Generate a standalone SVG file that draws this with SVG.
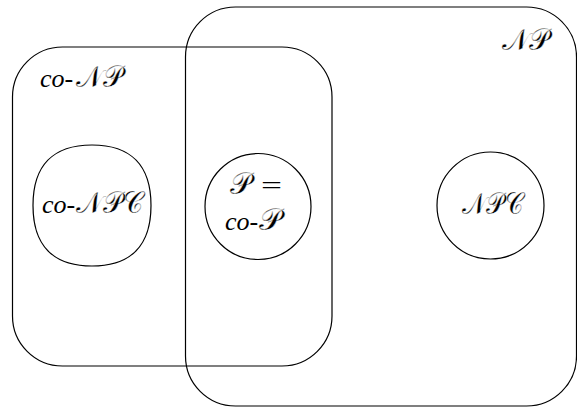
<svg xmlns="http://www.w3.org/2000/svg" width="577" height="408" viewBox="0 0 577 408">
  <style>
    .set { fill: none; stroke: #000; stroke-width: 1.2; }
    .lbl { font-family: "Liberation Serif", serif; font-size: 26px; font-style: italic; fill: #000; }
    .cal { font-family: "DejaVu Sans", "Noto Sans", serif; font-style: normal; font-size: 30px; font-weight: normal; stroke: #fff; stroke-width: 0.3; }
    .eq { font-style: normal; }
  </style>
  <rect width="577" height="408" fill="#fff"/>
  <g id="coNP">
    <rect class="set" x="12.5" y="47" width="319.5" height="319" rx="50"/>
    <text class="lbl" x="40" y="87">co-</text>
    <text class="lbl cal" x="76" y="87" textLength="47" lengthAdjust="spacingAndGlyphs">𝒩𝒫</text>
  </g>
  <g id="NP">
    <rect class="set" x="185.5" y="7" width="391" height="399" rx="50"/>
    <text class="lbl cal" x="502" y="50" textLength="48" lengthAdjust="spacingAndGlyphs">𝒩𝒫</text>
  </g>
  <g id="coNPC">
    <!-- rounded, slightly squared outline -->
    <path class="set" d="M33 205.5 C33 165.6 53.1 145 92 145 C130.9 145 151 165.6 151 205.5 C151 245.4 130.9 266 92 266 C53.1 266 33 245.4 33 205.5 Z"/>
    <text class="lbl" x="42" y="213">co-</text>
    <text class="lbl cal" x="76" y="213" textLength="67" lengthAdjust="spacingAndGlyphs">𝒩𝒫𝒞</text>
  </g>
  <g id="P">
    <circle class="set" cx="258" cy="206.5" r="53"/>
    <text class="lbl cal" x="230" y="194" textLength="22" lengthAdjust="spacingAndGlyphs">𝒫</text>
    <text class="lbl eq" x="261" y="194" textLength="21" lengthAdjust="spacingAndGlyphs">=</text>
    <text class="lbl" x="225" y="230">co-</text>
    <text class="lbl cal" x="259" y="230" textLength="23" lengthAdjust="spacingAndGlyphs">𝒫</text>
  </g>
  <g id="NPC">
    <circle class="set" cx="490.5" cy="205.5" r="53.5"/>
    <text class="lbl cal" x="462" y="214" textLength="61" lengthAdjust="spacingAndGlyphs">𝒩𝒫𝒞</text>
  </g>
</svg>
